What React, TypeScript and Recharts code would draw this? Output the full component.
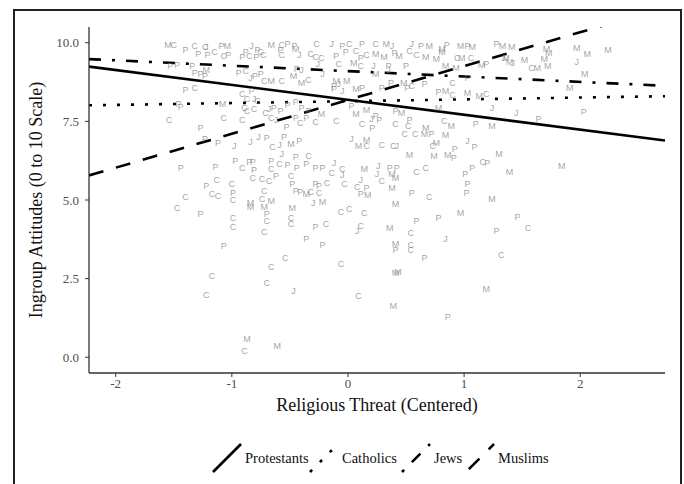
import React from 'react';
import { ComposedChart, Scatter, Line, XAxis, YAxis } from 'recharts';

// group names, letters used as markers
const groups = ['Protestants', 'Catholics', 'Jews', 'Muslims'];
const letters = ['P', 'C', 'J', 'M'];

// [religious threat, ingroup attitude]
const protestantPts: number[][] = [
  [0.66, 3.17], [0.86, 1.30], [0.41, 3.40], [-1.07, 3.54], [-0.22, 3.56],
  [-1.23, 6.95], [-1.12, 6.83], [-0.70, 6.98], [-0.55, 7.02], [-0.42, 6.89], [-0.45, 6.38],
  [-1.44, 6.03], [-1.14, 6.06], [-0.97, 6.25], [-0.85, 6.22], [-0.82, 6.22], [-0.81, 5.97],
  [-0.62, 5.78], [-0.66, 6.25], [-0.52, 6.13], [-0.44, 6.03], [-0.36, 6.16], [-0.28, 6.03],
  [-0.22, 6.03], [-1.22, 5.46], [-0.99, 5.24], [-1.27, 4.57], [-0.48, 5.52], [-0.45, 5.30],
  [-0.41, 5.27], [-0.28, 5.52], [-0.25, 5.46], [-0.70, 4.57], [-0.28, 4.16], [-0.36, 3.75],
  [0.72, 7.11], [0.92, 6.63], [1.09, 6.70], [0.91, 6.35], [1.20, 6.19], [0.36, 6.03],
  [0.42, 6.03], [1.01, 5.84], [1.07, 6.03], [0.16, 5.40], [0.11, 5.21], [0.55, 5.24],
  [1.03, 5.52], [1.02, 5.24], [0.78, 4.44], [1.46, 4.48], [1.28, 4.03], [0.59, 4.35],
  [-1.40, 9.78], [-1.29, 9.65], [-1.21, 9.62], [-1.09, 9.90], [-1.03, 9.62], [-0.88, 9.71],
  [-0.52, 9.97], [-0.91, 9.56], [-0.79, 9.56], [-1.47, 9.30], [-1.53, 9.27], [-1.34, 9.27],
  [-1.32, 9.05], [-1.27, 9.02], [-1.23, 8.95], [-0.94, 9.05], [-0.75, 9.02], [-0.44, 9.17],
  [-1.40, 8.51], [-1.46, 8.06], [-1.44, 7.97], [-0.83, 8.48], [-0.64, 7.94], [-0.58, 7.84],
  [-0.52, 8.03], [-0.45, 8.13], [-0.40, 7.94], [-0.34, 7.84], [-1.27, 7.30], [-0.45, 7.62],
  [-0.36, 7.62], [-0.53, 7.33], [-0.78, 9.78], [-0.46, 9.90], [-0.58, 9.78], [-0.80, 8.95],
  [-0.05, 9.90], [0.63, 9.90], [0.85, 9.94], [1.03, 9.90], [1.28, 9.97], [-0.02, 9.71],
  [0.40, 9.68], [0.35, 9.27], [1.19, 9.33], [-0.12, 8.63], [0.12, 8.57], [0.51, 8.57],
  [0.66, 8.70], [-0.12, 8.54], [0.29, 8.57], [0.78, 8.44], [0.24, 7.68], [0.27, 7.56],
  [0.53, 7.56], [0.21, 7.30], [1.10, 7.43], [1.03, 8.89], [0.12, 9.97], [-0.10, 9.59],
  [0.11, 9.52], [0.50, 9.27], [0.37, 8.73], [0.03, 8.00], [0.41, 7.84], [1.64, 7.58],
  [2.03, 7.80],
];
const catholicPts: number[][] = [
  [-1.17, 2.60], [-1.22, 1.97], [-0.66, 2.89], [-0.54, 3.17], [-0.70, 2.38], [-0.06, 2.98],
  [0.09, 1.94], [1.32, 3.27], [-0.89, 0.19], [0.54, 3.40],
  [-0.65, 6.70], [-0.34, 6.41], [-0.91, 6.03], [-0.82, 5.71], [-0.74, 5.68], [-0.68, 5.62],
  [-0.66, 6.00], [-0.59, 6.16], [-0.49, 5.78], [-1.13, 5.65], [-1.00, 5.52], [-1.17, 5.21],
  [-1.12, 5.14], [-0.99, 5.02], [-1.40, 5.11], [-1.47, 4.76], [-0.72, 5.30], [-0.74, 5.05],
  [-0.32, 5.27], [-0.25, 5.24], [-0.99, 4.44], [-0.99, 4.16], [-0.70, 4.35], [-0.49, 4.44],
  [-0.49, 4.25], [-0.19, 4.25], [-0.72, 4.00], [-0.18, 5.56],
  [0.49, 7.11], [0.58, 7.11], [0.16, 6.73], [0.29, 6.76], [0.39, 6.73], [0.73, 6.73],
  [1.16, 6.22], [-0.14, 5.87], [-0.05, 6.00], [0.29, 5.62], [0.59, 5.90], [0.67, 6.03],
  [-0.03, 5.52], [0.08, 5.43], [0.70, 5.11], [-0.06, 4.63], [0.01, 4.73], [0.14, 4.60],
  [0.11, 4.19], [0.54, 3.97], [0.54, 3.59], [1.55, 4.10],
  [-1.50, 9.94], [-1.32, 9.90], [-1.23, 9.87], [-1.15, 9.71], [-1.07, 9.59], [-0.75, 9.71],
  [-0.85, 9.59], [-0.73, 9.62], [-0.57, 9.62], [-0.27, 9.97], [-0.32, 9.65], [-0.28, 9.56],
  [-0.23, 9.52], [-0.88, 9.11], [-0.72, 8.79], [-0.57, 8.79], [-0.34, 8.83], [-1.32, 8.57],
  [-0.91, 8.38], [-0.87, 8.22], [-0.89, 7.94], [-0.87, 7.84], [-1.54, 7.56], [-1.07, 7.62],
  [-0.91, 7.56], [-0.71, 7.78], [-0.66, 7.62], [-0.41, 7.46], [-0.28, 7.49], [-0.57, 9.94],
  [-0.78, 8.16], [-0.81, 7.90],
  [0.01, 9.97], [0.24, 9.97], [0.07, 9.75], [0.16, 9.62], [0.53, 9.75], [0.94, 9.52],
  [1.06, 9.52], [-0.08, 9.33], [0.11, 9.27], [0.90, 8.73], [0.55, 8.63], [0.90, 8.35],
  [1.19, 8.38], [-0.10, 7.52], [0.12, 7.43], [0.41, 7.43], [0.52, 7.37], [0.83, 7.52],
  [0.59, 9.62], [1.58, 9.21],
];
const jewishPts: number[][] = [
  [-0.47, 2.10],
  [-0.98, 6.73], [-0.84, 6.86], [-0.77, 7.02], [-0.59, 6.76], [-0.57, 6.48], [-0.30, 4.92],
  [0.03, 6.95], [0.42, 6.73], [1.03, 6.89], [-0.12, 6.19], [-0.05, 5.81], [0.26, 6.10],
  [0.25, 5.84], [0.11, 5.65], [0.08, 4.03], [0.84, 3.78],
  [-1.22, 9.87], [-0.83, 9.90], [-0.42, 9.62], [-0.26, 9.33], [-0.84, 8.89], [-0.40, 9.14],
  [-0.22, 9.02], [-0.81, 8.22], [-0.68, 7.90], [-0.62, 7.56],
  [-0.14, 9.97], [0.38, 9.90], [0.55, 9.97], [1.34, 9.52], [0.22, 9.27], [0.35, 9.14],
  [-0.08, 8.70], [-0.05, 8.48], [0.20, 7.59], [1.24, 7.94], [1.45, 7.78], [1.97, 9.40],
  [1.42, 9.37],
];
const muslimPts: number[][] = [
  [0.41, 2.67], [0.43, 2.70], [0.39, 1.62], [1.19, 2.19], [-0.87, 0.60], [-0.61, 0.35],
  [-0.49, 6.79], [-0.66, 4.98], [-0.84, 4.92], [-0.84, 4.79], [-0.72, 4.79], [-0.36, 5.21],
  [-0.22, 4.95], [-0.48, 4.76],
  [0.66, 7.11], [0.84, 7.08], [0.09, 6.73], [0.16, 6.92], [0.76, 6.83], [0.53, 6.44],
  [0.74, 6.41], [0.86, 6.44], [1.30, 6.48], [1.39, 5.90], [0.14, 6.00], [0.38, 5.84],
  [0.41, 5.71], [0.17, 5.17], [0.38, 5.40], [1.24, 5.05], [0.41, 4.89], [0.97, 4.60],
  [0.36, 4.13], [0.41, 3.62], [1.84, 6.10],
  [-1.55, 9.94], [-1.04, 9.90], [-0.66, 9.94], [-0.45, 9.81], [-1.22, 9.14], [-0.66, 8.79],
  [-0.47, 8.95], [-0.40, 8.73], [-1.08, 8.06], [-0.23, 7.75],
  [0.33, 9.97], [0.70, 9.90], [0.81, 9.81], [0.97, 9.90], [1.07, 9.87], [1.33, 9.90],
  [1.41, 9.87], [0.24, 9.65], [0.31, 9.56], [0.44, 9.59], [0.67, 9.56], [0.76, 9.49],
  [0.81, 9.71], [0.98, 9.52], [1.15, 9.30], [1.39, 9.40], [0.05, 9.36], [0.84, 9.27],
  [0.93, 9.21], [0.24, 9.02], [-0.10, 8.79], [-0.01, 8.79], [0.48, 8.73], [0.07, 8.54],
  [0.84, 8.48], [1.03, 8.41], [1.13, 8.32], [0.16, 7.87], [0.07, 7.75], [0.46, 7.78],
  [0.78, 7.94], [0.67, 7.30], [0.89, 7.37], [1.24, 7.37],
  [1.71, 9.81], [1.73, 9.68], [1.69, 9.49], [1.72, 9.27], [1.63, 9.21], [1.97, 9.84],
  [2.06, 9.65], [2.24, 9.78], [2.04, 9.02], [1.91, 8.57], [1.52, 9.46], [1.36, 9.52],
];
const groupPts = [protestantPts, catholicPts, jewishPts, muslimPts];

// fitted lines: value at the left and right edge of the x range
const xRange = [-2.23, 2.73];
const lineStartY = [9.24, 8.01, 9.48, 5.78];
const lineEndY = [6.89, 8.30, 8.63, 11.12];
const lineDash = ['0', '3 11', '12 11 3 11', '15 13'];

const xTicks = [-2, -1, 0, 1, 2];
const yTicks = [0, 2.5, 5, 7.5, 10];

const serif = '"Liberation Serif", "Times New Roman", serif';
const axisColor = '#333';

const LetterShape = (letter: string) => (props: any) => (
  <text
    x={props.cx}
    y={props.cy}
    dy="0.35em"
    textAnchor="middle"
    fontSize={9}
    fontFamily='"Liberation Sans", Arial, sans-serif'
    fill="#7a7a7a"
    fillOpacity={0.7}
  >
    {letter}
  </text>
);

const ChartLegend = () => {
  // symbol start positions along the bottom row
  const starts = [213, 310, 402, 466];
  const dashOffsets = [0, 0, 23, 24];
  return (
    <svg width={684} height={60} style={{ position: 'absolute', left: 0, top: 430 }}>
      {groups.map((g, i) => (
        <g key={g}>
          <line
            x1={starts[i]}
            y1={42}
            x2={starts[i] + 28}
            y2={14}
            stroke="#000"
            strokeWidth={2.6}
            strokeDasharray={lineDash[i]}
            strokeDashoffset={dashOffsets[i]}
          />
          <text x={starts[i] + 32} y={33} fontSize={14.5} fontFamily={serif} fill="#111">
            {g}
          </text>
        </g>
      ))}
    </svg>
  );
};

export default function App() {
  return (
    <div style={{ position: 'absolute', left: 0, top: 0, width: 684, height: 484, overflow: 'hidden', background: '#fff' }}>
      <div
        style={{
          position: 'absolute', left: 13, top: 9, width: 669, height: 500,
          border: '2px solid #222', boxSizing: 'border-box',
        }}
      />
      <div style={{ position: 'absolute', left: 0, top: 0 }}>
        <ComposedChart width={684} height={484} margin={{ top: 27, right: 19, bottom: 91, left: 39 }}>
          <XAxis
            type="number"
            dataKey="x"
            domain={xRange}
            ticks={xTicks}
            allowDataOverflow
            height={20}
            tickSize={4}
            tickMargin={2}
            axisLine={{ stroke: axisColor, strokeWidth: 1.3 }}
            tickLine={{ stroke: axisColor }}
            tick={{ fill: '#4d4d4d', fontSize: 13, fontFamily: serif }}
            label={{
              content: (p: any) => (
                <text x={p.viewBox.x + p.viewBox.width / 2} y={p.viewBox.y + 38} textAnchor="middle" fontSize={18} fontFamily={serif} fill="#111">
                  Religious Threat (Centered)
                </text>
              ),
            }}
          />
          <YAxis
            type="number"
            dataKey="y"
            domain={[-0.5, 10.5]}
            ticks={yTicks}
            allowDataOverflow
            width={50}
            tickSize={4}
            tickMargin={6}
            tickFormatter={(v: number) => v.toFixed(1)}
            axisLine={{ stroke: axisColor, strokeWidth: 1.3 }}
            tickLine={{ stroke: axisColor }}
            tick={{ fill: '#4d4d4d', fontSize: 13, fontFamily: serif }}
            label={{
              content: (p: any) => {
                const cy = p.viewBox.y + p.viewBox.height / 2;
                return (
                  <text x={36} y={cy} transform={`rotate(-90 36 ${cy})`} textAnchor="middle" dominantBaseline="central" fontSize={18} fontFamily={serif} fill="#111">
                    Ingroup Attitudes (0 to 10 Scale)
                  </text>
                );
              },
            }}
          />
          {groupPts.map((pts, i) => (
            <Scatter
              key={groups[i]}
              name={groups[i]}
              data={pts.map(([x, y]) => ({ x, y }))}
              shape={LetterShape(letters[i])}
              isAnimationActive={false}
            />
          ))}
          {groups.map((g, i) => (
            <Line
              key={g + '-fit'}
              data={[{ x: xRange[0], y: lineStartY[i] }, { x: xRange[1], y: lineEndY[i] }]}
              dataKey="y"
              stroke="#000"
              strokeWidth={2.6}
              strokeDasharray={lineDash[i]}
              dot={false}
              activeDot={false}
              isAnimationActive={false}
            />
          ))}
        </ComposedChart>
      </div>
      <ChartLegend />
    </div>
  );
}
